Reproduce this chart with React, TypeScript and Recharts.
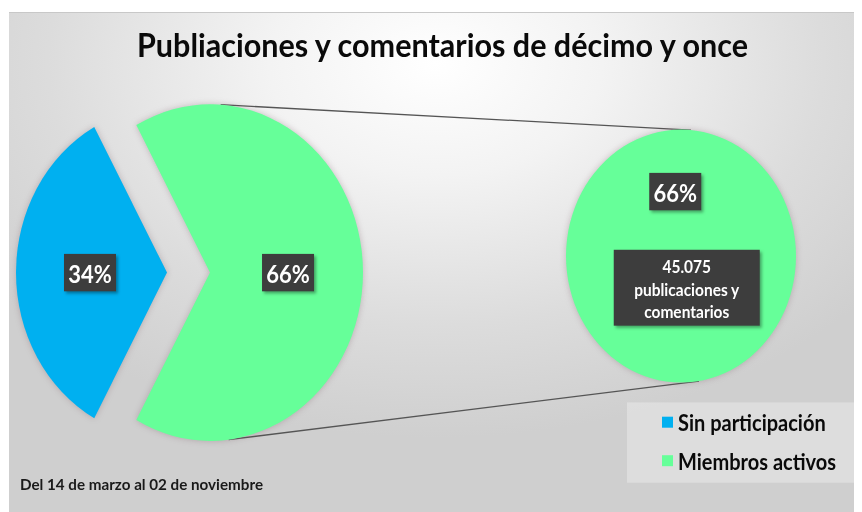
import { PieChart, Pie, Cell, Legend } from "recharts";

// ── Data ──────────────────────────────────────────────────────────────────────
const CATEGORIAS = ["Sin participación", "Miembros activos"];
const PORCENTAJES = [34, 66];
const DETALLE_LINEAS = ["45.075", "publicaciones y", "comentarios"];
const TITULO = "Publiaciones y comentarios de décimo y once";
const PERIODO = "Del 14 de marzo al 02 de noviembre";

// ── Theme / layout ────────────────────────────────────────────────────────────
const COLORES = ["#00b0f0", "#66ff99"];
const BOX = "#3d3d3d";
const FONT = "Lato, Carlito, 'Open Sans', sans-serif";
const W = 853;
const H = 455; // drawn height, stretched vertically by SY
const SY = 1.1;

const MAIN_CX = 201;
const MAIN_CY = 236;
const MAIN_R = 153;
const EXPLODE = 43;
const SUB_CX = 672;
const SUB_CY = 221;
const SUB_R = 115;

const RAD = Math.PI / 180;
const SHADOW = "drop-shadow(0px 0px 3px rgba(120,90,100,0.35))";
const BOX_SHADOW = "drop-shadow(2px 2px 1.5px rgba(0,0,0,0.35))";

const pieData = CATEGORIAS.map((name, i) => ({ name, value: PORCENTAJES[i] }));
const subData = [{ name: CATEGORIAS[1], value: PORCENTAJES[1] }];

// blue slice centred on the left (180°), green slice opens to the right
const total = PORCENTAJES.reduce((a, b) => a + b, 0);
const blueSpan = (360 * PORCENTAJES[0]) / total;
const START = 180 - blueSpan / 2;

function pctLabel(only: number) {
  return (props: any) => {
    const { cx, cy, midAngle, outerRadius, value, index } = props;
    if (index !== only) return null;
    const r = outerRadius * 0.51;
    const x = cx + r * Math.cos(-midAngle * RAD);
    const y = cy + r * Math.sin(-midAngle * RAD);
    return (
      <g key={`pct-${index}`}>
        <rect x={x - 26} y={y - 17} width={52} height={34} fill={BOX} style={{ filter: BOX_SHADOW }} />
        <text x={x} y={y + 1} textAnchor="middle" dominantBaseline="central" fill="#fff"
          fontFamily={FONT} fontWeight={700} fontSize={22}>
          {`${value}%`}
        </text>
      </g>
    );
  };
}

function subLabel(props: any) {
  const { cx, cy, outerRadius, value } = props;
  const px = cx - outerRadius * 0.05;
  const py = cy - outerRadius * 0.51;
  const bx = cx + outerRadius * 0.05;
  const by = cy + outerRadius * 0.25;
  return (
    <g key="sub">
      <rect x={px - 26} y={py - 17} width={52} height={34} fill={BOX} style={{ filter: BOX_SHADOW }} />
      <text x={px} y={py + 1} textAnchor="middle" dominantBaseline="central" fill="#fff"
        fontFamily={FONT} fontWeight={700} fontSize={22}>
        {`${value}%`}
      </text>
      <rect x={bx - 73} y={by - 34.5} width={146} height={69} fill={BOX} style={{ filter: BOX_SHADOW }} />
      {DETALLE_LINEAS.map((l, i) => (
        <text key={l} x={bx} y={by - 19.5 + i * 20.5} textAnchor="middle" dominantBaseline="central"
          fill="#fff" fontFamily={FONT} fontWeight={700} fontSize={15.5}>
          {l}
        </text>
      ))}
    </g>
  );
}

function LegendBox() {
  return (
    <div style={{
      width: 235, height: 73, background: "rgba(255,255,255,0.3)",
      fontFamily: FONT, fontWeight: 700, fontSize: 20, color: "#0a0a0a",
    }}>
      {CATEGORIAS.map((c, i) => (
        <div key={c} style={{
          position: "absolute", left: 35, top: i === 0 ? 7 : 42,
          display: "flex", alignItems: "center", height: 22, whiteSpace: "nowrap",
        }}>
          <span style={{ width: 11, height: 10, background: COLORES[i], marginRight: 5, display: "inline-block" }} />
          {c}
        </div>
      ))}
    </div>
  );
}

function pt(cx: number, cy: number, r: number, deg: number) {
  return [cx + r * Math.cos(deg * RAD), cy - r * Math.sin(deg * RAD)];
}

export default function App() {
  const [t1x, t1y] = pt(MAIN_CX, MAIN_CY, MAIN_R, 86);
  const [t2x, t2y] = pt(SUB_CX, SUB_CY, SUB_R, 85);
  const [b1x, b1y] = pt(MAIN_CX, MAIN_CY, MAIN_R, -83);
  const [b2x, b2y] = pt(SUB_CX, SUB_CY, SUB_R, -81);

  return (
    <div style={{
      width: W, height: 500, marginLeft: 1, marginTop: 4, position: "relative", overflow: "hidden",
      background: "radial-gradient(ellipse 65% 75% at 50% 10%, #ffffff 0%, #f3f3f3 30%, #dcdcdc 70%, #cfcfcf 100%)",
      borderTop: "1px solid #c8c8c8",
    }}>
      <div style={{ position: "absolute", left: 0, top: 0, width: W, height: H, transform: `scaleY(${SY})`, transformOrigin: "0 0" }}>
        <svg width={W} height={H} style={{ position: "absolute", left: 0, top: 0 }}>
          <text x={433.5} y={40} textAnchor="middle" fontFamily={FONT} fontWeight={700} fontSize={29}
            fill="#0a0a0a" textLength={611} lengthAdjust="spacingAndGlyphs">
            {TITULO}
          </text>
          <line x1={t1x} y1={t1y} x2={t2x} y2={t2y} stroke="#555" strokeWidth={1.2} />
          <line x1={b1x} y1={b1y} x2={b2x} y2={b2y} stroke="#555" strokeWidth={1.2} />
          <text x={11} y={434} fontFamily={FONT} fontWeight={700} fontSize={14} fill="#1a1a1a"
            textLength={243} lengthAdjust="spacingAndGlyphs">
            {PERIODO}
          </text>
        </svg>
        <div style={{ position: "absolute", left: 0, top: 0 }}>
          <PieChart width={W} height={H} margin={{ top: 0, right: 0, bottom: 0, left: 0 }}>
            <Pie data={pieData} dataKey="value" nameKey="name" cx={MAIN_CX} cy={MAIN_CY} outerRadius={MAIN_R}
              startAngle={START} endAngle={START + 360} stroke="none" labelLine={false}
              label={pctLabel(1)} isAnimationActive={false}>
              {pieData.map((d, i) => (
                <Cell key={d.name} fill={i === 1 ? COLORES[1] : "transparent"} style={{ filter: i === 1 ? SHADOW : undefined }} />
              ))}
            </Pie>
            <Pie data={pieData} dataKey="value" nameKey="name" cx={MAIN_CX - EXPLODE} cy={MAIN_CY} outerRadius={MAIN_R - 2}
              startAngle={START} endAngle={START + 360} stroke="none" labelLine={false}
              label={pctLabel(0)} isAnimationActive={false}>
              {pieData.map((d, i) => (
                <Cell key={d.name} fill={i === 0 ? COLORES[0] : "transparent"} style={{ filter: i === 0 ? SHADOW : undefined }} />
              ))}
            </Pie>
            <Pie data={subData} dataKey="value" nameKey="name" cx={SUB_CX} cy={SUB_CY} outerRadius={SUB_R}
              startAngle={90} endAngle={450} stroke="none" labelLine={false}
              label={subLabel} isAnimationActive={false}>
              <Cell fill={COLORES[1]} style={{ filter: SHADOW }} />
            </Pie>
            <Legend content={() => <LegendBox />}
              wrapperStyle={{ position: "absolute", left: 618, top: 354, width: 235, height: 73 }} />
          </PieChart>
        </div>
      </div>
    </div>
  );
}
